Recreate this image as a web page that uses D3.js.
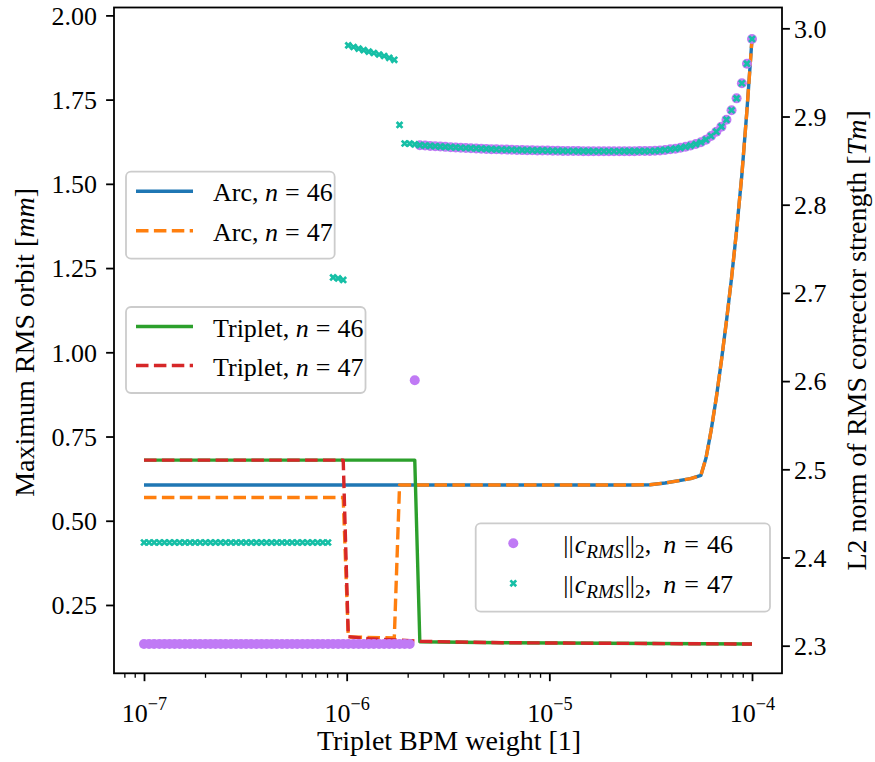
<!DOCTYPE html>
<html><head><meta charset="utf-8">
<script src="https://cdn.jsdelivr.net/npm/d3@7"></script>
<style>
body{margin:0;background:#fff;}
svg text{font-family:"Liberation Serif","Times New Roman",serif;fill:#000;}
</style></head><body>
<svg id="chart" width="875" height="762"></svg>
<script>
// log10 of the triplet BPM weight at each step of the scan
const scanExponent = [
 -7.000,-6.975,-6.950,-6.924,-6.899,-6.874,-6.849,-6.824,-6.798,-6.773,
 -6.748,-6.723,-6.697,-6.672,-6.647,-6.622,-6.597,-6.571,-6.546,-6.521,
 -6.496,-6.471,-6.445,-6.420,-6.395,-6.370,-6.345,-6.319,-6.294,-6.269,
 -6.244,-6.218,-6.193,-6.168,-6.143,-6.118,-6.092,-6.067,-6.042,-6.017,
 -5.992,-5.966,-5.941,-5.916,-5.891,-5.866,-5.840,-5.815,-5.790,-5.765,
 -5.739,-5.714,-5.689,-5.664,-5.639,-5.613,-5.588,-5.563,-5.538,-5.513,
 -5.487,-5.462,-5.437,-5.412,-5.387,-5.361,-5.336,-5.311,-5.286,-5.261,
 -5.235,-5.210,-5.185,-5.160,-5.134,-5.109,-5.084,-5.059,-5.034,-5.008,
 -4.983,-4.958,-4.933,-4.908,-4.882,-4.857,-4.832,-4.807,-4.782,-4.756,
 -4.731,-4.706,-4.681,-4.655,-4.630,-4.605,-4.580,-4.555,-4.529,-4.504,
 -4.479,-4.454,-4.429,-4.403,-4.378,-4.353,-4.328,-4.303,-4.277,-4.252,
 -4.227,-4.202,-4.176,-4.151,-4.126,-4.101,-4.076,-4.050,-4.025,-4.000
];

// ||c_RMS||_2 [Tm] for n = 46 (right axis)
const cNormN46 = [
 2.302,2.302,2.302,2.302,2.302,2.302,2.302,2.302,2.302,2.302,
 2.302,2.302,2.302,2.302,2.302,2.302,2.302,2.302,2.302,2.302,
 2.302,2.302,2.302,2.302,2.302,2.302,2.302,2.302,2.302,2.302,
 2.302,2.302,2.302,2.302,2.302,2.302,2.302,2.302,2.302,2.302,
 2.302,2.302,2.302,2.302,2.302,2.302,2.302,2.302,2.302,2.302,
 2.302,2.302,2.302,2.601,2.8675,2.8671,2.8667,2.8663,2.8659,2.8656,
 2.8652,2.8649,2.8646,2.8643,2.8641,2.8638,2.8635,2.8633,2.8630,2.8628,
 2.8626,2.8625,2.8623,2.8621,2.8619,2.8618,2.8617,2.8616,2.8615,2.8614,
 2.8612,2.8611,2.8610,2.8609,2.8609,2.8608,2.8607,2.8607,2.8606,2.8606,
 2.8606,2.8606,2.8606,2.8606,2.8607,2.8607,2.8607,2.8608,2.8608,2.8609,
 2.8611,2.8616,2.8621,2.8628,2.8635,2.8645,2.8657,2.8671,2.8688,2.8708,
 2.8737,2.8779,2.8828,2.8885,2.8964,2.9071,2.9206,2.9377,2.9599,2.9879
];

// ||c_RMS||_2 [Tm] for n = 47 (right axis)
const cNormN47 = [
 2.417,2.417,2.417,2.417,2.417,2.417,2.417,2.417,2.417,2.417,
 2.417,2.417,2.417,2.417,2.417,2.417,2.417,2.417,2.417,2.417,
 2.417,2.417,2.417,2.417,2.417,2.417,2.417,2.417,2.417,2.417,
 2.417,2.417,2.417,2.417,2.417,2.417,2.417,2.7175,2.7164,2.7147,
 2.9807,2.9788,2.9770,2.9753,2.9736,2.9720,2.9703,2.9686,2.9666,2.9643,
 2.8904,2.8694,2.8692,2.8685,2.8675,2.8671,2.8667,2.8663,2.8659,2.8656,
 2.8652,2.8649,2.8646,2.8643,2.8641,2.8638,2.8635,2.8633,2.8630,2.8628,
 2.8626,2.8625,2.8623,2.8621,2.8619,2.8618,2.8617,2.8616,2.8615,2.8614,
 2.8612,2.8611,2.8610,2.8609,2.8609,2.8608,2.8607,2.8607,2.8606,2.8606,
 2.8606,2.8606,2.8606,2.8606,2.8607,2.8607,2.8607,2.8608,2.8608,2.8609,
 2.8611,2.8616,2.8621,2.8628,2.8635,2.8645,2.8657,2.8671,2.8688,2.8708,
 2.8737,2.8779,2.8828,2.8885,2.8964,2.9071,2.9206,2.9377,2.9599,2.9879
];

// Maximum RMS orbit [mm] (left axis), vertices as [log10 weight, value]
const arcN46 = [
 [-7.000,0.606],[-4.605,0.606],[-4.504,0.607],[-4.429,0.612],[-4.303,0.625],
 [-4.252,0.635],[-4.227,0.686],[-4.202,0.767],[-4.176,0.866],[-4.151,0.975],
 [-4.126,1.093],[-4.101,1.220],[-4.076,1.362],[-4.050,1.527],[-4.025,1.718],[-4.000,1.930]
];
const arcN47 = [
 [-7.000,0.569],[-6.017,0.569],[-5.992,0.155],[-5.765,0.152],[-5.739,0.606],
 [-4.605,0.606],[-4.504,0.607],[-4.429,0.612],[-4.303,0.625],
 [-4.252,0.635],[-4.227,0.686],[-4.202,0.767],[-4.176,0.866],[-4.151,0.975],
 [-4.126,1.093],[-4.101,1.220],[-4.076,1.362],[-4.050,1.527],[-4.025,1.718],[-4.000,1.930]
];
const tripletN46 = [
 [-7.000,0.680],[-5.664,0.680],[-5.639,0.141],[-5.235,0.138],[-4.000,0.134]
];
const tripletN47 = [
 [-7.000,0.680],[-6.017,0.680],[-5.992,0.156],[-5.891,0.150],[-5.739,0.146],
 [-5.639,0.142],[-5.235,0.138],[-4.000,0.134]
];

const xMajorExponents = [-7, -6, -5, -4];
const xMinorValues = [8e-8, 9e-8,
  2e-7,3e-7,4e-7,5e-7,6e-7,7e-7,8e-7,9e-7,
  2e-6,3e-6,4e-6,5e-6,6e-6,7e-6,8e-6,9e-6,
  2e-5,3e-5,4e-5,5e-5,6e-5,7e-5,8e-5,9e-5];
const yLeftTicks = [0.25, 0.50, 0.75, 1.00, 1.25, 1.50, 1.75, 2.00];
const yRightTicks = [2.3, 2.4, 2.5, 2.6, 2.7, 2.8, 2.9, 3.0];

const C = {blue:"#1f77b4", orange:"#ff7f0e", green:"#2ca02c", red:"#d62728",
           purple:"#c07af5", teal:"#16bfa6"};

const plot = {left:114, right:782, top:7.5, bottom:673.3};
const svg = d3.select("#chart");

const x = d3.scaleLog().domain([Math.pow(10,-7.148), Math.pow(10,-3.852)]).range([plot.left, plot.right]);
const yL = d3.scaleLinear().domain([0.0472, 2.0234]).range([plot.bottom, plot.top]);
const yR = d3.scaleLinear().domain([2.2687, 3.0236]).range([plot.bottom, plot.top]);

const LW = 3.4, DASH = "12.5,5.4";
const FS = 26;

svg.append("defs").append("clipPath").attr("id","plotClip")
  .append("rect").attr("x",plot.left).attr("y",plot.top)
  .attr("width",plot.right-plot.left).attr("height",plot.bottom-plot.top);

// ---- left-axis lines
const gLines = svg.append("g").attr("clip-path","url(#plotClip)");
const lineL = d3.line().x(d=>x(Math.pow(10,d[0]))).y(d=>yL(d[1]));
const series = [
  {data:arcN46, color:C.blue, dash:null},
  {data:arcN47, color:C.orange, dash:DASH},
  {data:tripletN46, color:C.green, dash:null},
  {data:tripletN47, color:C.red, dash:DASH}
];
series.forEach(s=>{
  gLines.append("path").attr("d",lineL(s.data)).attr("fill","none")
    .attr("stroke",s.color).attr("stroke-width",LW)
    .attr("stroke-dasharray",s.dash).attr("stroke-linejoin","round");
});

// ---- legend helpers (math-style "n = 46" with relation spacing)
function relation(t, n){
  t.append("tspan").attr("font-style","italic").text("n");
  t.append("tspan").attr("dx",7).text("=");
  t.append("tspan").attr("dx",7).text(n);
}
function mathLabel(t, prefix, n){
  t.append("tspan").text(prefix);
  relation(t, n);
}
function cNormLabel(t, n){
  t.append("tspan").text("||");
  t.append("tspan").attr("font-style","italic").attr("dx",1).text("c");
  t.append("tspan").attr("font-style","italic").attr("font-size",FS*0.74).attr("dy",5).text("RMS");
  t.append("tspan").attr("dy",-5).attr("dx",1).text("||");
  t.append("tspan").attr("font-size",FS*0.74).attr("dy",5).text("2");
  t.append("tspan").attr("dy",-5).text(",");
  t.append("tspan").attr("dx",12).attr("font-style","italic").text("n");
  t.append("tspan").attr("dx",8).text("=");
  t.append("tspan").attr("dx",8).text(n);
}
function legendBox(g, x0, y0, h, textX, texts){
  const frame = g.insert("rect",":first-child");
  let maxW = 0;
  texts.each(function(){ maxW = Math.max(maxW, this.getComputedTextLength()); });
  frame.attr("x",x0).attr("y",y0).attr("width",(textX-x0)+maxW+16).attr("height",h)
    .attr("rx",5).attr("fill","#fff").attr("fill-opacity",0.8)
    .attr("stroke","#cccccc").attr("stroke-width",1.8);
}
function lineLegend(x0, y0, h, rows, items){
  const g = svg.append("g");
  items.forEach((it,i)=>{
    g.append("line").attr("x1",136).attr("x2",193).attr("y1",rows[i]).attr("y2",rows[i])
      .attr("stroke",it.color).attr("stroke-width",LW).attr("stroke-dasharray",it.dash);
    const t = g.append("text").attr("class","lt").attr("x",213).attr("y",rows[i]+10).attr("font-size",FS);
    mathLabel(t, it.prefix, it.n);
  });
  legendBox(g, x0, y0, h, 213, g.selectAll("text.lt"));
}
lineLegend(126, 171.7, 87, [191.3, 230.7], [
  {color:C.blue, dash:null, prefix:"Arc, ", n:"46"},
  {color:C.orange, dash:DASH, prefix:"Arc, ", n:"47"}]);
lineLegend(126, 307, 86, [326.5, 365.5], [
  {color:C.green, dash:null, prefix:"Triplet, ", n:"46"},
  {color:C.red, dash:DASH, prefix:"Triplet, ", n:"47"}]);

// ---- right-axis scatter
const xMark = "M-2.9,-2.9L2.9,2.9M-2.9,2.9L2.9,-2.9";
const gPts = svg.append("g").attr("clip-path","url(#plotClip)");
gPts.selectAll("circle.n46").data(cNormN46).join("circle").attr("class","n46")
  .attr("cx",(d,i)=>x(Math.pow(10,scanExponent[i]))).attr("cy",d=>yR(d))
  .attr("r",5).attr("fill",C.purple);
gPts.selectAll("path.n47").data(cNormN47).join("path").attr("class","n47")
  .attr("d",xMark)
  .attr("transform",(d,i)=>`translate(${x(Math.pow(10,scanExponent[i]))},${yR(d)})`)
  .attr("fill","none").attr("stroke",C.teal).attr("stroke-width",2.7);

// scatter legend
{
  const g = svg.append("g");
  const rows = [543.3, 583.3];
  g.append("circle").attr("cx",513.3).attr("cy",rows[0]).attr("r",5).attr("fill",C.purple);
  g.append("path").attr("d",xMark).attr("transform",`translate(513.3,${rows[1]})`)
    .attr("fill","none").attr("stroke",C.teal).attr("stroke-width",2.7);
  ["46","47"].forEach((n,i)=>{
    const t = g.append("text").attr("class","lt").attr("x",563.3).attr("y",rows[i]+10).attr("font-size",FS);
    cNormLabel(t, n);
  });
  g.insert("rect",":first-child").attr("x",475.7).attr("y",523.3).attr("width",294.3).attr("height",88.4)
    .attr("rx",5).attr("fill","#fff").attr("fill-opacity",0.8)
    .attr("stroke","#cccccc").attr("stroke-width",1.8);
}

// ---- axes
const TL = 7.9, TW = 1.8;
function styleAxis(g){
  g.select(".domain").remove();
  g.selectAll(".tick line").attr("stroke","#000").attr("stroke-width",TW);
  g.selectAll(".tick text").attr("font-size",FS).attr("font-family","Liberation Serif, Times New Roman, serif").attr("fill","#000");
}
const gxMinor = svg.append("g").attr("transform",`translate(0,${plot.bottom})`)
  .call(d3.axisBottom(x).tickValues(xMinorValues).tickSize(4.5).tickFormat(""));
gxMinor.select(".domain").remove();
gxMinor.selectAll(".tick line").attr("stroke","#000").attr("stroke-width",1.3);

const gx = svg.append("g").attr("transform",`translate(0,${plot.bottom})`)
  .call(d3.axisBottom(x).tickValues(xMajorExponents.map(e=>Math.pow(10,e))).tickSize(TL).tickFormat(""));
styleAxis(gx);
gx.selectAll(".tick").each(function(d,i){
  const t = d3.select(this).append("text").attr("y",48.5).attr("text-anchor","middle")
    .attr("font-size",FS).attr("fill","#000");
  t.append("tspan").text("10");
  t.append("tspan").attr("font-size",FS*0.7).attr("dy",-12).text("\u2212" + Math.abs(xMajorExponents[i]));
});

const gyL = svg.append("g").attr("transform",`translate(${plot.left},0)`)
  .call(d3.axisLeft(yL).tickValues(yLeftTicks).tickSize(TL).tickPadding(9).tickFormat(d3.format(".2f")));
styleAxis(gyL);
gyL.selectAll(".tick text").attr("dy","0.34em");

const gyR = svg.append("g").attr("transform",`translate(${plot.right},0)`)
  .call(d3.axisRight(yR).tickValues(yRightTicks).tickSize(TL).tickPadding(4).tickFormat(d3.format(".1f")));
styleAxis(gyR);
gyR.selectAll(".tick text").attr("dy","0.34em");

svg.append("rect").attr("x",plot.left).attr("y",plot.top)
  .attr("width",plot.right-plot.left).attr("height",plot.bottom-plot.top)
  .attr("fill","none").attr("stroke","#000").attr("stroke-width",TW);

// ---- axis titles
const LFS = 28;
svg.append("text").attr("x",(plot.left+plot.right)/2+1).attr("y",750)
  .attr("text-anchor","middle").attr("font-size",LFS).text("Triplet BPM weight [1]");

const ylt = svg.append("text").attr("transform",`translate(34,${(plot.top+plot.bottom)/2+2}) rotate(-90)`)
  .attr("text-anchor","middle").attr("font-size",LFS);
ylt.append("tspan").text("Maximum RMS orbit [");
ylt.append("tspan").attr("font-style","italic").text("mm");
ylt.append("tspan").text("]");

const yrt = svg.append("text").attr("transform",`translate(866,${(plot.top+plot.bottom)/2}) rotate(-90)`)
  .attr("text-anchor","middle").attr("font-size",LFS);
yrt.append("tspan").text("L2 norm of RMS corrector strength [");
yrt.append("tspan").attr("font-style","italic").text("Tm");
yrt.append("tspan").text("]");
</script>
</body></html>
